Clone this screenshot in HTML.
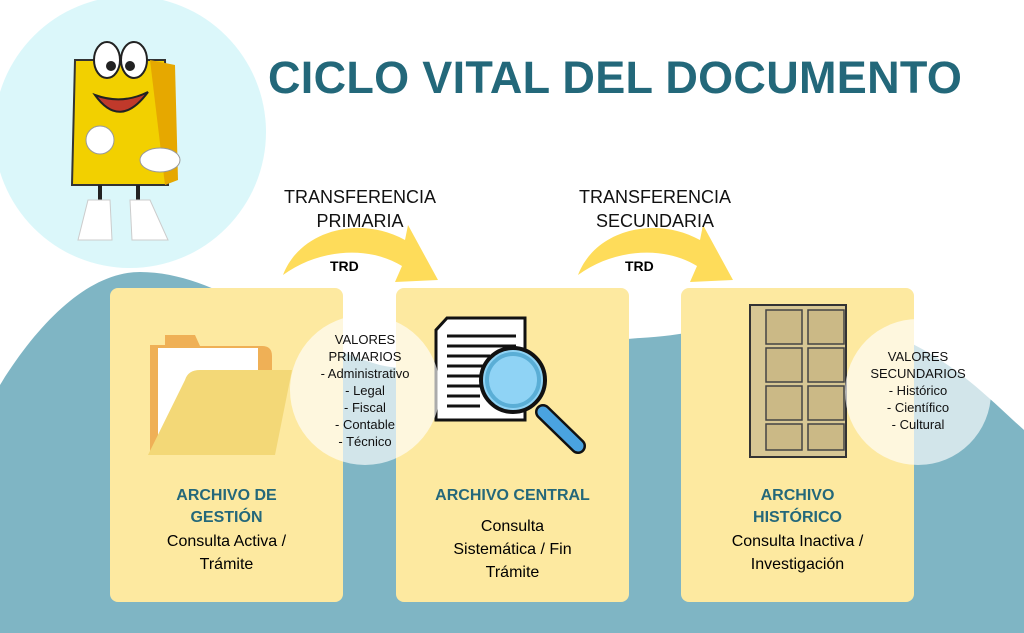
<!DOCTYPE html>
<html><head><meta charset="utf-8"><style>
body{margin:0;width:1024px;height:633px;overflow:hidden;background:#fff;font-family:"Liberation Sans",sans-serif;position:relative}
.abs{position:absolute}
.card{position:absolute;top:288px;width:233px;height:314px;background:#fde9a0;border-radius:8px}
.t{position:absolute;text-align:center;width:233px}
.h{color:#24687a;font-weight:bold;font-size:16px;line-height:22px}
.s{color:#000;font-size:16px;line-height:23px}
.tr{position:absolute;text-align:center;font-size:18px;line-height:24px;color:#111;width:200px}
.trd{position:absolute;font-weight:bold;font-size:14px}
.v{position:absolute;text-align:center;font-size:13px;line-height:17px;color:#111}
</style></head><body>
<svg class="abs" style="left:0;top:0" width="1024" height="633">
<circle cx="130" cy="132" r="136" fill="#dbf7fa"/>
<path d="M0 385 C40 320 90 272 140 272 C220 272 290 340 380 365 C450 380 540 345 640 338 C720 334 800 300 880 330 C950 355 990 400 1024 430 L1024 633 L0 633Z" fill="#7fb5c4"/>
<path d="M283 275 C300 230 360 215 405 240 L408 225 L438 280 L395 282 L402 266 C370 246 320 248 283 275Z" fill="#fedc5a"/>
<path d="M578 275 C595 230 655 215 700 240 L703 225 L733 280 L690 282 L697 266 C665 246 615 248 578 275Z" fill="#fedc5a"/>
</svg>
<div class="card" style="left:110px"></div>
<div class="card" style="left:396px"></div>
<div class="card" style="left:681px"></div>
<svg class="abs" style="left:0;top:0" width="1024" height="633">
<path d="M150 345 L165 345 L165 335 L195 335 L200 346 L262 346 Q272 346 272 356 L272 455 L150 455Z" fill="#efb056"/>
<rect x="158" y="348" width="100" height="100" fill="#fff"/>
<path d="M185 380 Q188 370 200 370 L292 370 L275 455 L148 455Z" fill="#f3d877"/>
<path d="M447 318 L525 318 L525 420 L436 420 L436 330Z" fill="#fff" stroke="#111" stroke-width="3"/>
<g stroke="#111" stroke-width="3"><line x1="447" y1="336" x2="516" y2="336"/><line x1="447" y1="346" x2="516" y2="346"/><line x1="447" y1="356" x2="490" y2="356"/><line x1="447" y1="366" x2="485" y2="366"/><line x1="447" y1="376" x2="480" y2="376"/><line x1="447" y1="386" x2="480" y2="386"/><line x1="447" y1="396" x2="480" y2="396"/><line x1="447" y1="406" x2="480" y2="406"/></g>
<line x1="543" y1="412" x2="578" y2="446" stroke="#111" stroke-width="16" stroke-linecap="round"/>
<line x1="543" y1="412" x2="578" y2="446" stroke="#4aa3e0" stroke-width="11" stroke-linecap="round"/>
<circle cx="513" cy="380" r="32" fill="#8fd3f5" stroke="#111" stroke-width="4"/>
<circle cx="513" cy="380" r="26" fill="none" stroke="#5aaed6" stroke-width="4"/>
<rect x="750" y="305" width="96" height="152" fill="#d7c794" stroke="#333" stroke-width="2"/>
<g fill="#cbb986" stroke="#444" stroke-width="1.5">
<rect x="766" y="310" width="36" height="34"/><rect x="808" y="310" width="36" height="34"/>
<rect x="766" y="348" width="36" height="34"/><rect x="808" y="348" width="36" height="34"/>
<rect x="766" y="386" width="36" height="34"/><rect x="808" y="386" width="36" height="34"/>
<rect x="766" y="424" width="36" height="26"/><rect x="808" y="424" width="36" height="26"/></g>
<circle cx="365" cy="390" r="75" fill="#fff" fill-opacity="0.65"/>
<circle cx="918" cy="392" r="73" fill="#fff" fill-opacity="0.65"/>
<path d="M75 60 L165 60 L168 185 L72 185Z" fill="#f2d000" stroke="#333" stroke-width="2"/>
<path d="M150 60 L175 65 L178 180 L165 185Z" fill="#e6a800"/>
<ellipse cx="107" cy="60" rx="13" ry="18" fill="#fff" stroke="#222" stroke-width="2"/>
<ellipse cx="134" cy="60" rx="13" ry="18" fill="#fff" stroke="#222" stroke-width="2"/>
<circle cx="111" cy="66" r="5" fill="#222"/><circle cx="130" cy="66" r="5" fill="#222"/>
<path d="M95 95 Q120 130 148 92 Q122 105 95 95Z" fill="#c0392b" stroke="#222" stroke-width="2"/>
<circle cx="100" cy="140" r="14" fill="#fff" stroke="#999"/>
<ellipse cx="160" cy="160" rx="20" ry="12" fill="#fff" stroke="#999"/>
<line x1="100" y1="185" x2="100" y2="205" stroke="#222" stroke-width="4"/><line x1="138" y1="185" x2="138" y2="205" stroke="#222" stroke-width="4"/>
<path d="M88 200 L110 200 L112 240 L78 240Z" fill="#fff" stroke="#ccc"/><path d="M130 200 L150 200 L168 240 L132 240Z" fill="#fff" stroke="#ccc"/>
</svg>
<div class="abs" style="left:268px;top:52px;font-size:45px;font-weight:bold;color:#23687a;letter-spacing:0.3px">CICLO VITAL DEL DOCUMENTO</div>
<div class="tr" style="left:260px;top:185px">TRANSFERENCIA<br>PRIMARIA</div>
<div class="tr" style="left:555px;top:185px">TRANSFERENCIA<br>SECUNDARIA</div>
<div class="trd" style="left:330px;top:258px">TRD</div>
<div class="trd" style="left:625px;top:258px">TRD</div>
<div class="v" style="left:300px;top:331px;width:130px">VALORES<br>PRIMARIOS<br>- Administrativo<br>- Legal<br>- Fiscal<br>- Contable<br>- Técnico</div>
<div class="v" style="left:853px;top:348px;width:130px">VALORES<br>SECUNDARIOS<br>- Histórico<br>- Científico<br>- Cultural</div>
<div class="t h" style="left:110px;top:485px">ARCHIVO DE<br>GESTIÓN</div>
<div class="t s" style="left:110px;top:530px">Consulta Activa /<br>Trámite</div>
<div class="t h" style="left:396px;top:485px">ARCHIVO CENTRAL</div>
<div class="t s" style="left:396px;top:515px">Consulta<br>Sistemática / Fin<br>Trámite</div>
<div class="t h" style="left:681px;top:485px">ARCHIVO<br>HISTÓRICO</div>
<div class="t s" style="left:681px;top:530px">Consulta Inactiva /<br>Investigación</div>
</body></html>
